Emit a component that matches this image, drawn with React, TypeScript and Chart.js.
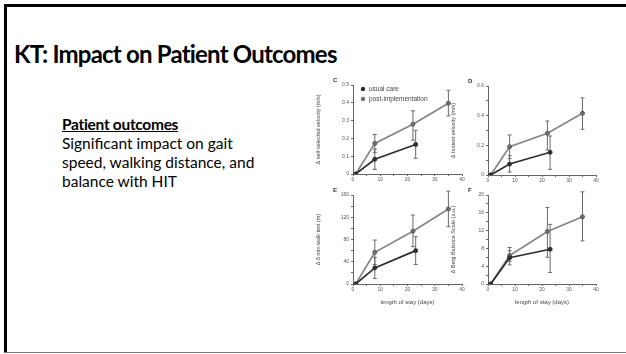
import React, { useEffect, useRef } from "react";
import { Chart, registerables } from "chart.js";
Chart.register(...registerables);

// ---- data ----
const usualDays = [1, 8, 23];
const postDays = [1, 8, 22, 35];

const usualC = [0, 0.083, 0.166];
const usualCLo = [0, 0.026, 0.088];
const usualCHi = [0, 0.14, 0.245];
const postC = [0, 0.172, 0.28, 0.397];
const postCLo = [0, 0.12, 0.19, 0.326];
const postCHi = [0, 0.222, 0.355, 0.47];

const usualD = [0, 0.074, 0.153];
const usualDLo = [0, 0.02, 0.038];
const usualDHi = [0, 0.13, 0.263];
const postD = [0, 0.191, 0.281, 0.416];
const postDLo = [0, 0.11, 0.169, 0.308];
const postDHi = [0, 0.27, 0.364, 0.52];

const usualE = [0, 29, 60];
const usualELo = [0, 10, 35];
const usualEHi = [0, 48, 85];
const postE = [0, 57, 95, 135];
const postELo = [0, 35, 67, 103];
const postEHi = [0, 79, 124, 167];

const usualF = [0, 5.9, 7.8];
const usualFLo = [0, 4.3, 2.6];
const usualFHi = [0, 7.5, 13.4];
const postF = [0, 6.4, 11.8, 15.1];
const postFLo = [0, 5.1, 6.0, 9.7];
const postFHi = [0, 8.2, 17.2, 20.7];

const seriesLabels = ["usual care", "post-implementation"];
const xTitle = "length of stay (days)";
const slideTitle = "KT: Impact on Patient Outcomes";
const subHeading = "Patient outcomes";
const bodyLines = ["Significant impact on gait", "speed, walking distance, and", "balance with HIT"];

const USUAL_COLOR = "#2e2e2e";
const POST_COLOR = "#858585";
const CHART_FONT = "'Liberation Sans', Arial, sans-serif";

const errorBarPlugin = {
  id: "errbars",
  beforeDatasetsDraw(chart: any) {
    const ctx = chart.ctx;
    const ys = chart.scales.y;
    chart.data.datasets.forEach((ds: any, i: number) => {
      const meta = chart.getDatasetMeta(i);
      meta.data.forEach((pt: any, j: number) => {
        const lo = ds.errLo[j], hi = ds.errHi[j];
        if (lo === hi) return;
        const x = pt.x;
        const y1 = ys.getPixelForValue(lo);
        const y2 = ys.getPixelForValue(hi);
        ctx.save();
        ctx.strokeStyle = ds.errColor;
        ctx.lineWidth = 1;
        ctx.beginPath();
        ctx.moveTo(x, y1);
        ctx.lineTo(x, y2);
        ctx.moveTo(x - 2, y1);
        ctx.lineTo(x + 2, y1);
        ctx.moveTo(x - 2, y2);
        ctx.lineTo(x + 2, y2);
        ctx.stroke();
        ctx.restore();
      });
    });
  },
};

const panelPlugin = {
  id: "panelDeco",
  afterDraw(chart: any, _args: any, opts: any) {
    const ctx = chart.ctx;
    ctx.save();
    ctx.fillStyle = "#333";
    ctx.font = `bold 6px ${CHART_FONT}`;
    ctx.textBaseline = "middle";
    ctx.textAlign = "left";
    if (opts.letter) ctx.fillText(opts.letter, opts.lx, opts.ly);
    if (opts.legend) {
      const ca = chart.chartArea;
      chart.data.datasets.forEach((ds: any, i: number) => {
        const y = ca.top + 4 + i * 10;
        const x = ca.left + 10;
        ctx.beginPath();
        ctx.fillStyle = ds.pointBackgroundColor;
        ctx.arc(x, y, 2.2, 0, Math.PI * 2);
        ctx.fill();
        ctx.fillStyle = "#444";
        ctx.font = `6.5px ${CHART_FONT}`;
        ctx.fillText(ds.label, x + 6, y + 0.5);
      });
    }
    ctx.restore();
  },
};

type PanelProps = {
  left: number; top: number; plotW: number; plotH: number;
  xAxisH: number; yMax: number; yStep: number; labelEvery: number; decimals: number;
  yTitle: string; showXTitle: boolean; letter: string; legend: boolean;
  uVals: number[]; uLo: number[]; uHi: number[];
  pVals: number[]; pLo: number[]; pHi: number[];
};

const Y_W = 38;
const PAD_T = 8;
const PAD_R = 8;

function Panel(p: PanelProps) {
  const ref = useRef<HTMLCanvasElement>(null);
  const w = Y_W + p.plotW + PAD_R;
  const h = PAD_T + p.plotH + p.xAxisH;
  useEffect(() => {
    const tickFont = { family: CHART_FONT, size: 5 };
    const mk = (days: number[], vals: number[]) => days.map((d, i) => ({ x: d, y: vals[i] }));
    const chart = new Chart(ref.current as HTMLCanvasElement, {
      type: "line",
      data: {
        datasets: [
          {
            label: seriesLabels[0],
            data: mk(usualDays, p.uVals),
            borderColor: USUAL_COLOR,
            backgroundColor: USUAL_COLOR,
            pointBackgroundColor: USUAL_COLOR,
            pointBorderColor: USUAL_COLOR,
            pointRadius: 2,
            pointBorderWidth: 1,
            borderWidth: 1.7,
            errLo: p.uLo, errHi: p.uHi, errColor: "#6a6a6a",
          } as any,
          {
            label: seriesLabels[1],
            data: mk(postDays, p.pVals),
            borderColor: POST_COLOR,
            backgroundColor: POST_COLOR,
            pointBackgroundColor: "#6f6f6f",
            pointBorderColor: "#5a5a5a",
            pointRadius: 2,
            pointBorderWidth: 1,
            borderWidth: 1.7,
            errLo: p.pLo, errHi: p.pHi, errColor: "#6a6a6a",
          } as any,
        ],
      },
      options: {
        animation: false,
        responsive: false,
        maintainAspectRatio: false,
        layout: { padding: { top: PAD_T, right: PAD_R, left: 0, bottom: 0 } },
        plugins: {
          legend: { display: false },
          tooltip: { enabled: false },
          panelDeco: { letter: p.letter, lx: 18, ly: 3.5, legend: p.legend },
        } as any,
        scales: {
          x: {
            type: "linear",
            min: 0, max: 40,
            afterFit: (s: any) => { s.height = p.xAxisH; },
            ticks: {
              stepSize: 5, autoSkip: false, maxRotation: 0, padding: 1,
              font: tickFont, color: "#555",
              callback: (v: any) => (Number(v) % 10 === 0 ? String(v) : ""),
            },
            grid: { drawOnChartArea: false, drawTicks: true, tickLength: 2, color: "#666" },
            border: { display: true, color: "#666", width: 1 },
            title: {
              display: p.showXTitle, text: xTitle, color: "#444", padding: { top: 2, bottom: 0 },
              font: { family: CHART_FONT, size: 6 },
            },
          },
          y: {
            type: "linear",
            min: 0, max: p.yMax,
            afterFit: (s: any) => { s.width = Y_W; },
            ticks: {
              stepSize: p.yStep, autoSkip: false, padding: 2,
              font: tickFont, color: "#555",
              callback: (v: any) => {
                const n = Math.round(Number(v) / p.yStep);
                if (n % p.labelEvery !== 0) return "";
                const val = n * p.yStep;
                return val === 0 ? "0" : val.toFixed(p.decimals);
              },
            },
            grid: { drawOnChartArea: false, drawTicks: true, tickLength: 2, color: "#666" },
            border: { display: true, color: "#666", width: 1 },
            title: {
              display: true, text: p.yTitle, color: "#444", padding: { top: 0, bottom: 1 },
              font: { family: CHART_FONT, size: 5.5 },
            },
          },
        },
      } as any,
      plugins: [errorBarPlugin, panelPlugin],
    });
    return () => chart.destroy();
  }, []);
  return (
    <canvas
      ref={ref}
      width={w}
      height={h}
      style={{ position: "absolute", left: p.left - Y_W, top: p.top - PAD_T, width: w, height: h }}
    />
  );
}

export default function App() {
  const textFont = "Lato, 'Open Sans', sans-serif";
  return (
    <div style={{ position: "absolute", left: 0, top: 0, width: 626, height: 354, background: "#fff", overflow: "hidden" }}>
      <div style={{ position: "absolute", left: 4, top: 4, width: 622, height: 3, background: "#000" }} />
      <div style={{ position: "absolute", left: 4, top: 4, width: 3, height: 349, background: "#000" }} />
      <div style={{ position: "absolute", left: 4, top: 352, width: 622, height: 1, background: "#777" }} />
      <div style={{ position: "absolute", left: 14, top: 40, fontFamily: textFont, fontWeight: 700, fontSize: 24, letterSpacing: "-0.8px", lineHeight: "28px", color: "#000", whiteSpace: "nowrap" }}>
        {slideTitle}
      </div>
      <div style={{ position: "absolute", left: 62, top: 115, fontFamily: textFont, fontSize: 15.5, lineHeight: "19px", color: "#000", whiteSpace: "nowrap" }}>
        <div style={{ fontWeight: 700, textDecoration: "underline", letterSpacing: "-0.3px" }}>{subHeading}</div>
        {bodyLines.map((l) => <div key={l}>{l}</div>)}
      </div>
      <Panel left={353} top={85} plotW={109} plotH={89} xAxisH={10} yMax={0.5} yStep={0.1} labelEvery={1} decimals={1}
        yTitle="Δ self-selected velocity (m/s)" showXTitle={false} letter="C" legend={true}
        uVals={usualC} uLo={usualCLo} uHi={usualCHi} pVals={postC} pLo={postCLo} pHi={postCHi} />
      <Panel left={488} top={86} plotW={108} plotH={89} xAxisH={10} yMax={0.6} yStep={0.1} labelEvery={2} decimals={1}
        yTitle="Δ fastest velocity (m/s)" showXTitle={false} letter="D" legend={false}
        uVals={usualD} uLo={usualDLo} uHi={usualDHi} pVals={postD} pLo={postDLo} pHi={postDHi} />
      <Panel left={353} top={195} plotW={109} plotH={89} xAxisH={22} yMax={160} yStep={20} labelEvery={2} decimals={0}
        yTitle="Δ 6 min walk test (m)" showXTitle={true} letter="E" legend={false}
        uVals={usualE} uLo={usualELo} uHi={usualEHi} pVals={postE} pLo={postELo} pHi={postEHi} />
      <Panel left={488} top={195} plotW={108} plotH={89} xAxisH={22} yMax={20} yStep={2} labelEvery={2} decimals={0}
        yTitle="Δ Berg Balance Scale (a.u.)" showXTitle={true} letter="F" legend={false}
        uVals={usualF} uLo={usualFLo} uHi={usualFHi} pVals={postF} pLo={postFLo} pHi={postFHi} />
    </div>
  );
}
